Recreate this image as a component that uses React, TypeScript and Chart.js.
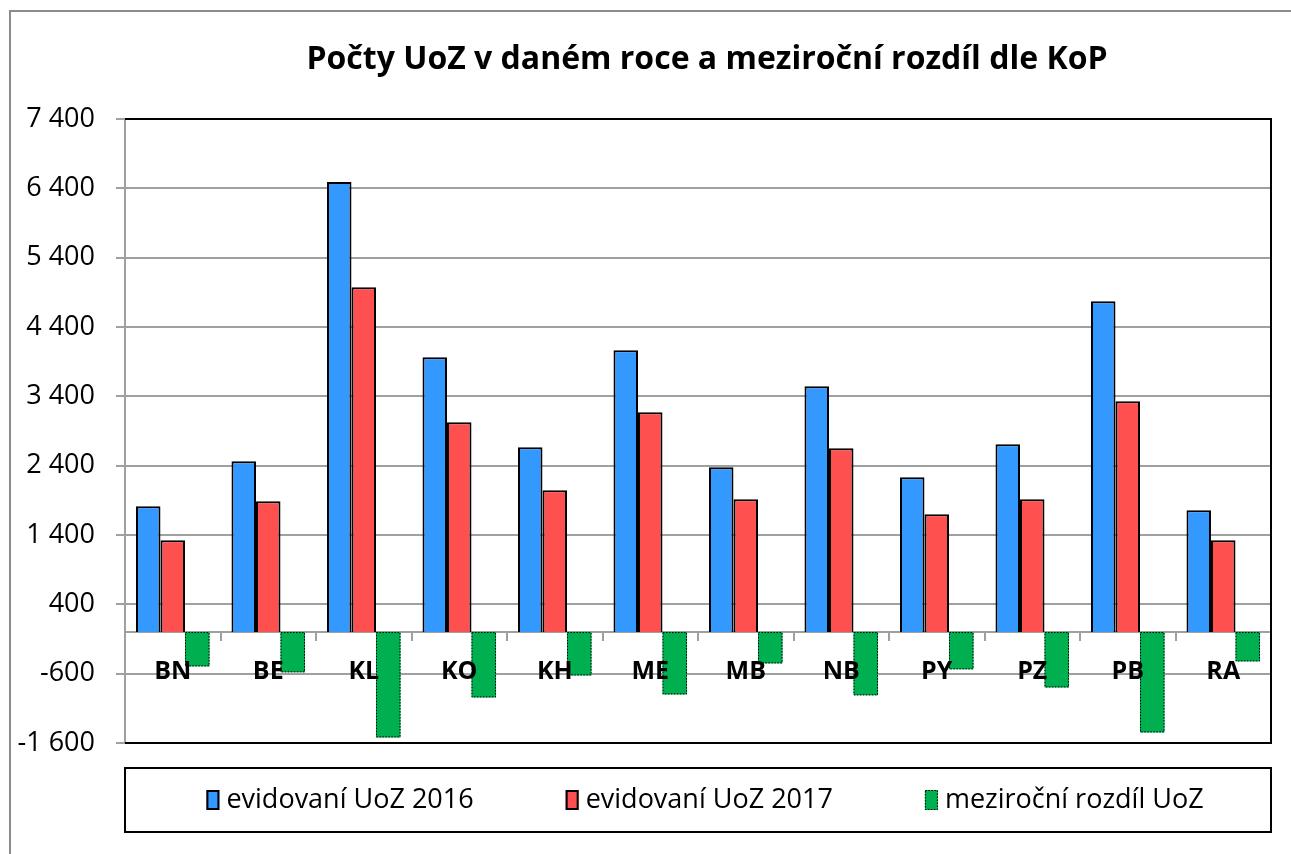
import React, { useEffect, useRef } from "react";
import { Chart, registerables } from "chart.js";

Chart.register(...registerables);

const titleText = "Počty UoZ v daném roce a meziroční rozdíl dle KoP";
const categories = ["BN", "BE", "KL", "KO", "KH", "ME", "MB", "NB", "PY", "PZ", "PB", "RA"];
const uoz2016 = [1814, 2463, 6490, 3964, 2665, 4065, 2377, 3545, 2232, 2708, 4772, 1756];
const uoz2017 = [1323, 1886, 4975, 3026, 2045, 3170, 1915, 2650, 1698, 1915, 3329, 1323];
const rozdil = [-495, -581, -1519, -942, -625, -899, -452, -913, -538, -798, -1447, -423];
const yTicks = [-1600, -600, 400, 1400, 2400, 3400, 4400, 5400, 6400, 7400];
const seriesLabels = ["evidovaní UoZ 2016", "evidovaní UoZ 2017", "meziroční rozdíl UoZ"];
const seriesColors = ["#3399FF", "#FF5050", "#00B050"];

const FONT = "'Open Sans', 'Noto Sans', sans-serif";
const GRID = "#A0A0A0";

const fmt = (v: number) => {
  const s = Math.abs(v).toString();
  const t = s.length > 3 ? s.slice(0, -3) + " " + s.slice(-3) : s;
  return (v < 0 ? "-" : "") + t;
};

const decorPlugin = {
  id: "decor",
  afterDatasetsDraw(chart: any) {
    const ctx = chart.ctx;
    const meta = chart.getDatasetMeta(2);
    ctx.save();
    ctx.strokeStyle = "#000";
    ctx.lineWidth = 1;
    ctx.setLineDash([1.5, 1.5]);
    meta.data.forEach((el: any) => {
      const { x, y, base, width } = el.getProps(["x", "y", "base", "width"], true);
      ctx.strokeRect(x - width / 2 + 0.5, Math.min(y, base) + 0.5, width - 1, Math.abs(base - y) - 1);
    });
    ctx.restore();
  },
  afterDraw(chart: any) {
    const ctx = chart.ctx;
    const a = chart.chartArea;
    ctx.save();
    // outer frame
    ctx.strokeStyle = "#8C8C8C";
    ctx.lineWidth = 2;
    ctx.beginPath();
    ctx.moveTo(10, chart.height);
    ctx.lineTo(10, 11);
    ctx.lineTo(chart.width, 11);
    ctx.stroke();
    // plot border top/right/bottom
    ctx.strokeStyle = "#000";
    ctx.lineWidth = 2;
    ctx.beginPath();
    ctx.moveTo(a.left, a.top);
    ctx.lineTo(a.right, a.top);
    ctx.lineTo(a.right, a.bottom);
    ctx.lineTo(a.left, a.bottom);
    ctx.stroke();
    // title
    ctx.fillStyle = "#000";
    ctx.font = `bold 32px ${FONT}`;
    ctx.textAlign = "center";
    ctx.textBaseline = "alphabetic";
    ctx.fillText(titleText, 707, 69);
    // legend box
    const lt = 768, lb = 832;
    ctx.strokeStyle = "#000";
    ctx.lineWidth = 2;
    ctx.strokeRect(a.left, lt, a.right - a.left, lb - lt);
    ctx.font = `27px ${FONT}`;
    ctx.textAlign = "left";
    const boxW = 13, boxH = 20, gapBT = 7, gapItems = 92;
    const widths = seriesLabels.map((l) => ctx.measureText(l).width);
    const total = widths.reduce((s, w) => s + w + boxW + gapBT, 0) + gapItems * (seriesLabels.length - 1);
    let x = 705 - total / 2;
    const cy = (lt + lb) / 2;
    seriesLabels.forEach((l, i) => {
      ctx.fillStyle = seriesColors[i];
      ctx.fillRect(x, cy - boxH / 2, boxW, boxH);
      ctx.strokeStyle = "#000";
      if (i === 2) {
        ctx.lineWidth = 1;
        ctx.setLineDash([1.5, 1.5]);
        ctx.strokeRect(x + 0.5, cy - boxH / 2 + 0.5, boxW - 1, boxH - 1);
        ctx.setLineDash([]);
      } else {
        ctx.lineWidth = 2;
        ctx.strokeRect(x + 1, cy - boxH / 2 + 1, boxW - 2, boxH - 2);
      }
      ctx.fillStyle = "#000";
      ctx.textBaseline = "middle";
      ctx.fillText(l, x + boxW + gapBT, cy);
      x += boxW + gapBT + widths[i] + gapItems;
    });
    ctx.restore();
  },
};

export default function App() {
  const ref = useRef<HTMLCanvasElement>(null);
  useEffect(() => {
    if (!ref.current) return;
    const chart = new Chart(ref.current, {
      type: "bar",
      data: {
        labels: categories,
        datasets: [
          { label: seriesLabels[0], data: uoz2016, backgroundColor: seriesColors[0], borderColor: "#000", borderWidth: 2 },
          { label: seriesLabels[1], data: uoz2017, backgroundColor: seriesColors[1], borderColor: "#000", borderWidth: 2 },
          { label: seriesLabels[2], data: rozdil, backgroundColor: seriesColors[2], borderWidth: 0 },
        ],
      },
      options: {
        responsive: false,
        maintainAspectRatio: false,
        animation: false,
        devicePixelRatio: 1,
        layout: { padding: { left: 0, top: 119, right: 20, bottom: 111 } },
        datasets: { bar: { categoryPercentage: 0.77, barPercentage: 1.0 } },
        plugins: { legend: { display: false }, title: { display: false }, tooltip: { enabled: false } },
        scales: {
          x: {
            position: { y: 0 } as any,
            offset: true,
            grid: { offset: true, drawOnChartArea: false, drawTicks: true, tickLength: 8, color: GRID, lineWidth: 2 },
            border: { display: true, color: GRID, width: 2 },
            ticks: { z: 1, color: "#000", font: { family: FONT, size: 25, weight: "bold" }, padding: 17, maxRotation: 0 },
          } as any,
          y: {
            min: -1600,
            max: 7400,
            afterBuildTicks: (scale: any) => {
              scale.ticks = yTicks.map((v) => ({ value: v }));
            },
            afterFit: (scale: any) => {
              scale.width = 125;
            },
            grid: { color: GRID, lineWidth: 2, tickLength: 9 },
            border: { display: true, color: GRID, width: 2 },
            ticks: {
              color: "#000",
              font: { family: FONT, size: 27 },
              padding: 21,
              callback: (v: any) => fmt(Number(v)),
            },
          },
        },
      },
      plugins: [decorPlugin],
    });
    return () => chart.destroy();
  }, []);
  return (
    <div style={{ position: "absolute", left: 0, top: 0, width: 1291, height: 854, background: "#fff" }}>
      <canvas ref={ref} width={1291} height={854} style={{ display: "block" }} />
    </div>
  );
}
